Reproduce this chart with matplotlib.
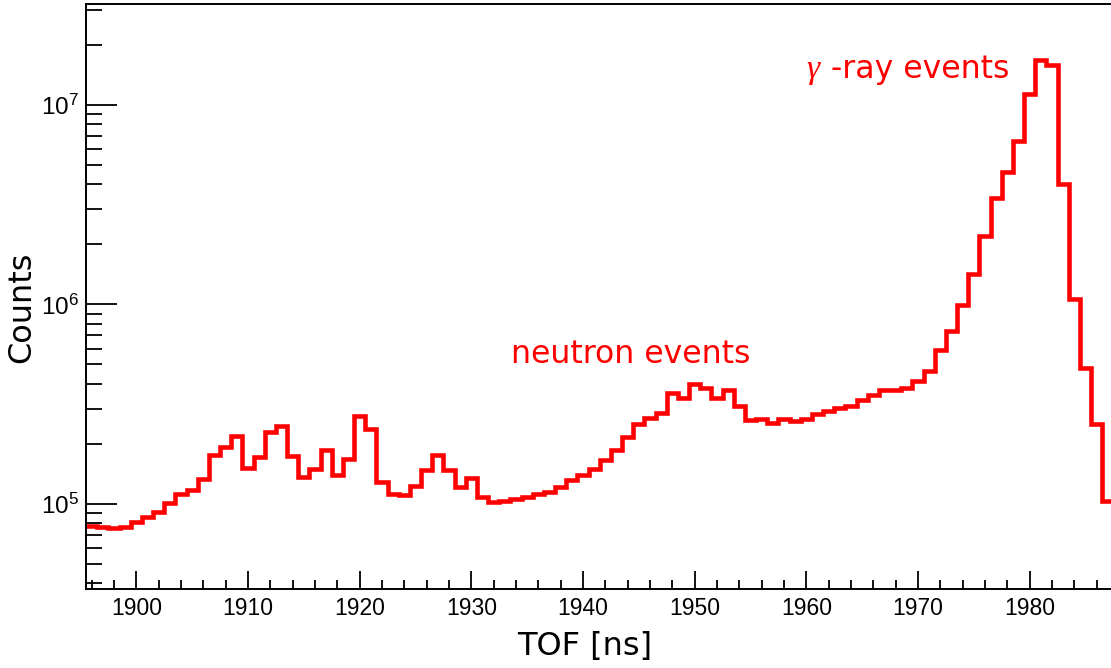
import numpy as np
import matplotlib
matplotlib.use('Agg')
import matplotlib.pyplot as plt
from matplotlib.ticker import LogLocator, MultipleLocator, FuncFormatter, NullFormatter

# TOF bin centres [ns], 1 ns bins
tof = np.arange(1896, 1988)

# counts per bin
counts = [
	7.76e4, 7.68e4, 7.55e4, 7.69e4, 8.15e4, 8.58e4, 9.08e4, 1.016e5, 1.12e5, 1.175e5,   # 1896-1905
	1.33e5, 1.75e5, 1.94e5, 2.20e5, 1.51e5, 1.71e5, 2.29e5, 2.46e5, 1.73e5, 1.37e5,     # 1906-1915
	1.49e5, 1.87e5, 1.40e5, 1.68e5, 2.76e5, 2.37e5, 1.29e5, 1.12e5, 1.11e5, 1.23e5,     # 1916-1925
	1.48e5, 1.75e5, 1.48e5, 1.22e5, 1.35e5, 1.08e5, 1.02e5, 1.03e5, 1.06e5, 1.09e5,     # 1926-1935
	1.12e5, 1.15e5, 1.21e5, 1.32e5, 1.40e5, 1.49e5, 1.66e5, 1.87e5, 2.17e5, 2.51e5,     # 1936-1945
	2.69e5, 2.87e5, 3.61e5, 3.39e5, 3.98e5, 3.80e5, 3.41e5, 3.73e5, 3.11e5, 2.64e5,     # 1946-1955
	2.66e5, 2.54e5, 2.68e5, 2.61e5, 2.68e5, 2.82e5, 2.93e5, 3.02e5, 3.10e5, 3.32e5,     # 1956-1965
	3.51e5, 3.72e5, 3.71e5, 3.80e5, 4.12e5, 4.66e5, 5.91e5, 7.39e5, 9.9e5, 1.42e6,      # 1966-1975
	2.20e6, 3.43e6, 4.63e6, 6.55e6, 1.13e7, 1.68e7, 1.59e7, 4.02e6, 1.07e6, 4.82e5,     # 1976-1985
	2.52e5, 1.035e5,                                                                    # 1986-1987
]

xticks_major = [1900, 1910, 1920, 1930, 1940, 1950, 1960, 1970, 1980]

plt.rcParams['mathtext.fontset'] = 'custom'
plt.rcParams['mathtext.rm'] = 'Liberation Sans'
plt.rcParams['mathtext.it'] = 'Liberation Sans:italic'

W, H = 1111, 668
fig = plt.figure(figsize=(W / 100, H / 100), dpi=100)
# frame in pixels: left 86, top 4, bottom 589; the right edge runs past the image
ax = fig.add_axes([86 / W, (H - 589) / H, 1027.4 / W, 585 / H])

edges = np.append(tof - 0.5, tof[-1] + 0.5)
ax.stairs(counts, edges, baseline=None, color='#ff0000', lw=3.3)

ax.set_yscale('log')
ax.set_xlim(1895.5, 1987.5)
ax.set_ylim(3.75e4, 3.2e7)

ax.set_xticks(xticks_major)
ax.xaxis.set_minor_locator(MultipleLocator(2))
ax.yaxis.set_major_locator(LogLocator(base=10))
ax.yaxis.set_minor_locator(LogLocator(base=10, subs=np.arange(2, 10)))
ax.yaxis.set_minor_formatter(NullFormatter())
ax.yaxis.set_major_formatter(FuncFormatter(lambda v, p: r'$10^{%d}$' % round(np.log10(v))))

ax.tick_params(axis='both', which='both', direction='in', width=1.3, color='black',
			   top=False, right=False)
ax.tick_params(axis='x', which='major', length=13, pad=6, labelsize=16.5)
ax.tick_params(axis='x', which='minor', length=6.5)
ax.tick_params(axis='y', which='major', length=22.5, pad=5, labelsize=17.5)
ax.tick_params(axis='y', which='minor', length=11.5)
for lab in ax.get_xticklabels():
	lab.set_fontfamily('Liberation Sans')

for side in ['left', 'bottom', 'top']:
	ax.spines[side].set_linewidth(1.4)
ax.spines['right'].set_visible(False)

fig.text(585 / W, 1 - 647 / H, 'TOF [ns]', ha='center', va='center',
		 fontsize=23, family='DejaVu Sans')
fig.text(22 / W, 1 - 307 / H, 'Counts', ha='center', va='center', rotation=90,
		 fontsize=23, family='DejaVu Sans')

ax.text(1933.6, 5.09e5, 'neutron events', color='#ff0000', fontsize=22.7,
		family='DejaVu Sans', ha='left', va='baseline')
ax.text(1960.0, 1.36e7, 'γ', color='#ff0000', fontsize=24,
		family='Liberation Serif', style='italic', ha='left', va='baseline')
ax.text(1962.2, 1.36e7, '-ray events', color='#ff0000', fontsize=22.7,
		family='DejaVu Sans', ha='left', va='baseline')

fig.savefig('out.png', dpi=100)
